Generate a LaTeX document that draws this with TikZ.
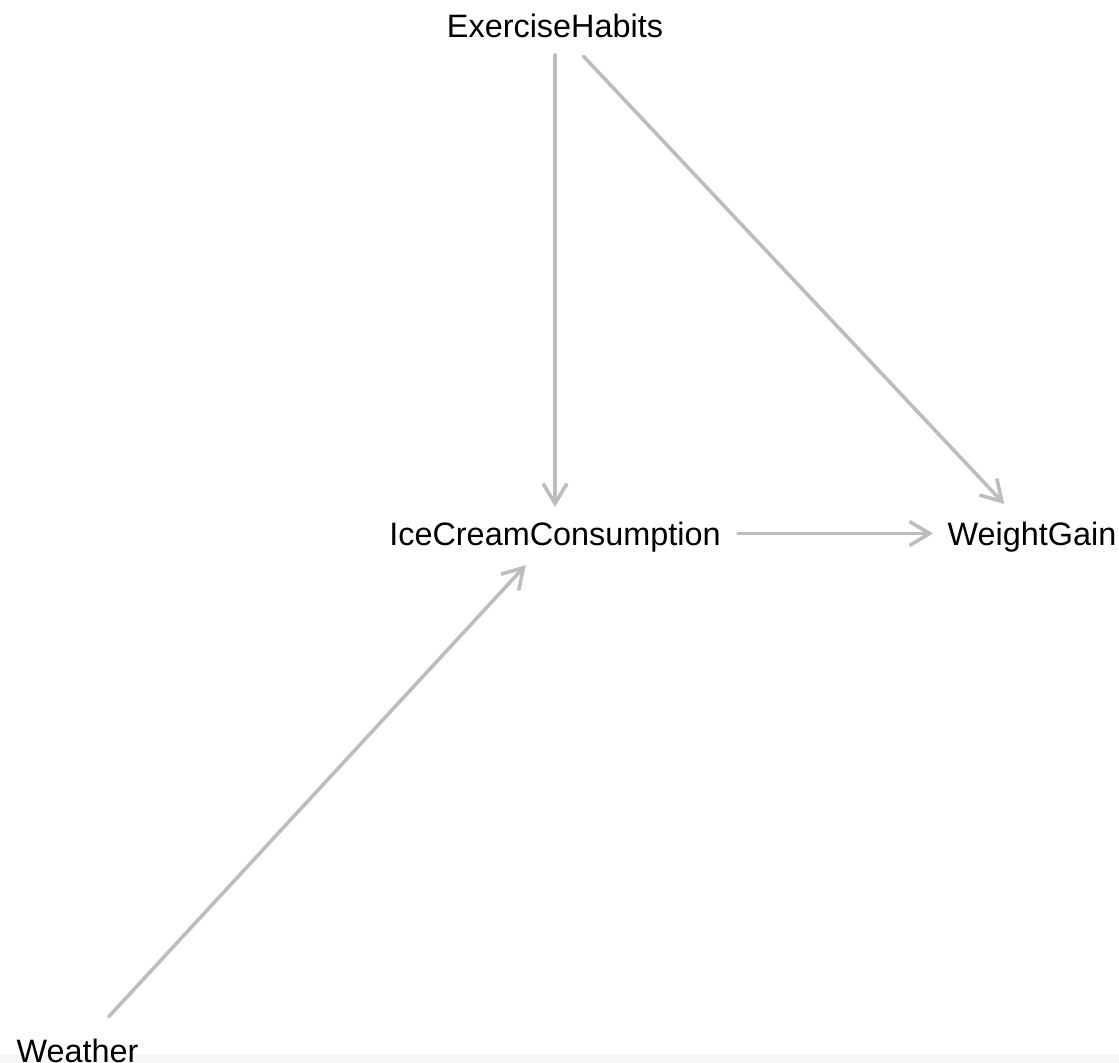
\documentclass[tikz,border=0pt]{standalone}
\usepackage{fontspec}
\setmainfont{Liberation Sans}
\usetikzlibrary{arrows.meta}
\definecolor{edgegray}{HTML}{BDBDBD}
\definecolor{stripgray}{HTML}{F6F6F6}
\begin{document}
\begin{tikzpicture}[x=0.5pt,y=-0.5pt,
  var/.style={inner sep=0pt, text height=11.6pt, text depth=0pt,
    font=\fontsize{16.2}{19}\selectfont, text=black},
  edge/.style={draw=edgegray, line width=1.8pt, line cap=round,
    -{Straight Barb[length=10pt,width=12pt,line width=1.8pt]}}]
  % canvas and bottom strip
  \useasboundingbox (0,0) rectangle (1119,1063);
  \fill[white] (0,0) rectangle (1119,1063);
  \fill[stripgray] (0,1055) rectangle (1119,1063);

  % variables
  \node[var] (ex)  at (555,26)     {ExerciseHabits};
  \node[var] (ice) at (555,533.5)  {IceCreamConsumption};
  \node[var] (wg)  at (1032,533.5) {WeightGain};
  \node[var] (wea) at (77.5,1050.5) {Weather};

  % causal edges
  \draw[edge, shorten <=14.5pt, shorten >=13.25pt] (ex.center) -- (ice.center);
  \draw[edge, shorten <=20.8pt, shorten >=20.3pt] (ex.center) -- (wg.center);
  \draw[edge, shorten <=91.5pt, shorten >=49.5pt] (ice.center) -- (wg.center);
  \draw[edge, shorten <=23pt, shorten >=21.5pt] (wea.center) -- (ice.center);
\end{tikzpicture}
\end{document}
